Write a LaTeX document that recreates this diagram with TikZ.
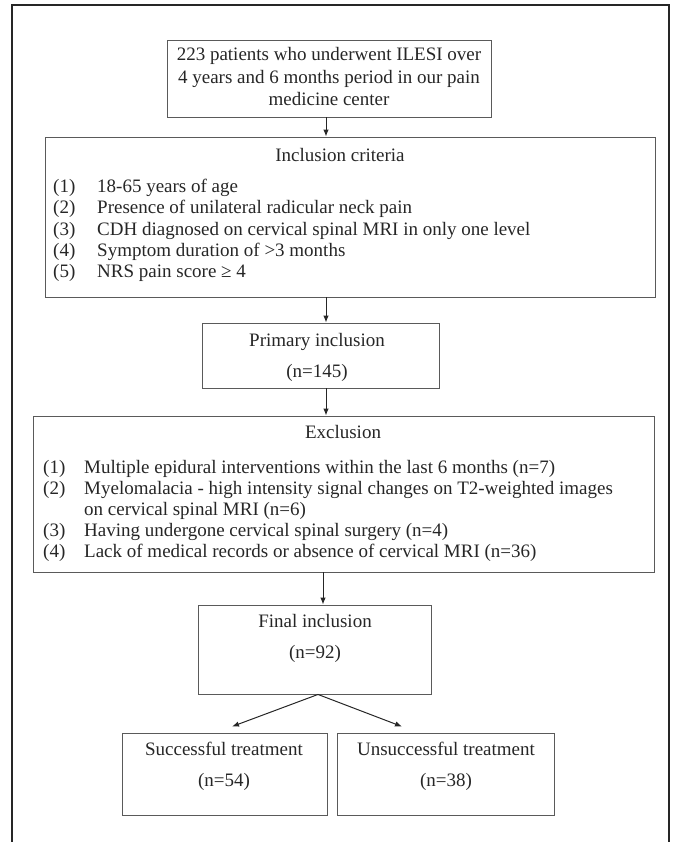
\documentclass[tikz,border=0pt]{standalone}
\usepackage{fontspec}
\setmainfont{Liberation Serif}
\usepackage{tikz}
\usetikzlibrary{arrows.meta}
\definecolor{boxgray}{HTML}{5A5A5A}
\definecolor{inkgray}{HTML}{262626}
\newcommand{\incitem}[1]{\makebox[44pt][l]{#1}}
\newcommand{\excitem}[1]{\makebox[41pt][l]{#1}}
\tikzset{
  box/.style={draw=boxgray, line width=0.9pt, inner sep=0pt},
  lbl/.style={anchor=base, inner sep=0pt, text=inkgray},
  itm/.style={anchor=base west, inner sep=0pt, text=inkgray},
  arr/.style={draw=inkgray, line width=1pt, -{Latex[length=7pt,width=5.5pt]}}
}
\begin{document}
\begin{tikzpicture}[x=1pt,y=-1pt,font=\fontsize{19}{22}\selectfont]
  \useasboundingbox (0,0) rectangle (672,842);
  % outer frame, open at the bottom
  \draw[draw=inkgray, line width=1.6pt] (12,860) -- (12,5) -- (669,5) -- (669,860);

  % boxes
  \node[box, minimum width=324pt, minimum height=77pt] (start) at (329,78.5) {};
  \node[box, minimum width=610pt, minimum height=160pt] (incl) at (350,217) {};
  \node[box, minimum width=237pt, minimum height=65pt] (prim) at (320.5,355.5) {};
  \node[box, minimum width=621pt, minimum height=156pt] (excl) at (343.5,494) {};
  \node[box, minimum width=233pt, minimum height=89pt] (fin) at (314.5,649.5) {};
  \node[box, minimum width=205pt, minimum height=82pt] (succ) at (224.5,774) {};
  \node[box, minimum width=217pt, minimum height=82pt] (unsucc) at (445.5,774) {};

  % texts
  \node[lbl] (startA) at (329,61) {223 patients who underwent ILESI over};
  \node[lbl] (startB) at (329,84) {4 years and 6 months period in our pain};
  \node[lbl] (startC) at (329,106) {medicine center};

  \node[lbl] (inclT) at (340,162) {Inclusion criteria};
  \node[itm] (inc1) at (53,193) {\incitem{(1)}18-65 years of age};
  \node[itm] (inc2) at (53,214) {\incitem{(2)}Presence of unilateral radicular neck pain};
  \node[itm] (inc3) at (53,235) {\incitem{(3)}CDH diagnosed on cervical spinal MRI in only one level};
  \node[itm] (inc4) at (53,256) {\incitem{(4)}Symptom duration of >3 months};
  \node[itm] (inc5) at (53,277) {\incitem{(5)}NRS pain score ≥ 4};

  \node[lbl] (primA) at (317,346) {Primary inclusion};
  \node[lbl] (primB) at (317,377) {(n=145)};

  \node[lbl] (exclT) at (343,438) {Exclusion};
  \node[itm] (exc1) at (43,473) {\excitem{(1)}Multiple epidural interventions within the last 6 months (n=7)};
  \node[itm] (exc2) at (43,494) {\excitem{(2)}Myelomalacia - high intensity signal changes on T2-weighted images};
  \node[itm] (exc2b) at (84,515) {on cervical spinal MRI (n=6)};
  \node[itm] (exc3) at (43,536) {\excitem{(3)}Having undergone cervical spinal surgery (n=4)};
  \node[itm] (exc4) at (43,557) {\excitem{(4)}Lack of medical records or absence of cervical MRI (n=36)};

  \node[lbl] (finA) at (315,627) {Final inclusion};
  \node[lbl] (finB) at (315,658) {(n=92)};

  \node[lbl] (succA) at (224,755) {Successful treatment};
  \node[lbl] (succB) at (224,786) {(n=54)};
  \node[lbl] (unsuccA) at (446,755) {Unsuccessful treatment};
  \node[lbl] (unsuccB) at (446,786) {(n=38)};

  % connectors
  \draw[arr] ([xshift=-3pt]start.south) -- ([xshift=-3pt]start.south |- incl.north);
  \draw[arr] ([xshift=-3pt]start.south |- incl.south) -- ([xshift=-3pt]start.south |- prim.north);
  \draw[arr] ([xshift=-3pt]start.south |- prim.south) -- ([xshift=-3pt]start.south |- excl.north);
  \draw[arr] ([xshift=8.5pt]fin.north |- excl.south) -- ([xshift=8.5pt]fin.north);
  \draw[arr] ([xshift=3.5pt]fin.south) -- ([xshift=7.5pt,yshift=6pt]succ.north);
  \draw[arr] ([xshift=3.5pt]fin.south) -- ([xshift=-43.5pt,yshift=6pt]unsucc.north);
\end{tikzpicture}
\end{document}
